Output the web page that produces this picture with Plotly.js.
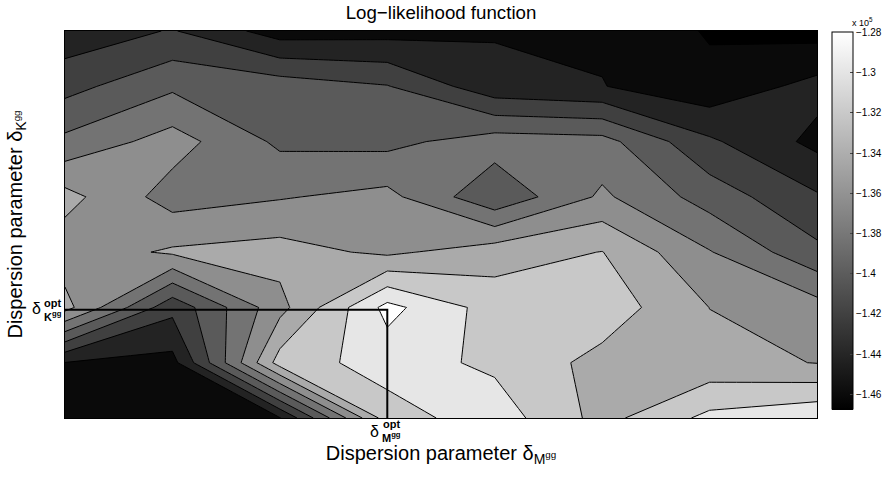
<!DOCTYPE html>
<html>
<head>
<meta charset="utf-8">
<script src="https://cdn.plot.ly/plotly-3.0.1.min.js"></script>
<style>
html,body{margin:0;padding:0;background:#fff;}
#chart{width:885px;height:478px;}
</style>
</head>
<body>
<div id="chart"></div>
<script>
// grid positions (index of dispersion parameter grid)
const xGrid = [0, 1, 2, 3, 4, 5, 6, 7];
const yGrid = [0, 1, 2, 3, 4, 5, 6, 7];

// log-likelihood values (x 10^5), one row per yGrid value (bottom to top)
const row0 = [-1.458, -1.455, -1.441, -1.3092, -1.289, -1.327, -1.2945, -1.283];
const row1 = [-1.4405, -1.4468, -1.311, -1.2912, -1.304, -1.3266, -1.3339, -1.3406];
const row2 = [-1.333, -1.414, -1.3467, -1.2737, -1.309, -1.3083, -1.3402, -1.352];
const row3 = [-1.352, -1.337, -1.3321, -1.344, -1.329, -1.3195, -1.3588, -1.395];
const row4 = [-1.333, -1.369, -1.3615, -1.354, -1.396, -1.3564, -1.3887, -1.4176];
const row5 = [-1.375, -1.3513, -1.384, -1.3857, -1.370, -1.3726, -1.4166, -1.4456];
const row6 = [-1.407, -1.3836, -1.389, -1.399, -1.4333, -1.4393, -1.4543, -1.4331];
const row7 = [-1.433, -1.4185, -1.4497, -1.4476, -1.4418, -1.4434, -1.4619, -1.4676];
const zValues = [row0, row1, row2, row3, row4, row5, row6, row7];

// contour levels
const levelStart = -1.46, levelEnd = -1.28, levelStep = 0.02;

// band fill colours, lowest band first
const bandColors = ['#000000', '#0a0a0a', '#232323', '#404040', '#5a5a5a', '#737373',
                    '#8e8e8e', '#aaaaaa', '#c8c8c8', '#e6e6e6', '#ffffff'];

// colour bar
const cbRange = [-1.4676, -1.28];
const cbTickVals = [-1.28, -1.30, -1.32, -1.34, -1.36, -1.38, -1.40, -1.42, -1.44, -1.46];
const cbTickText = ['\u22121.28', '\u22121.3', '\u22121.32', '\u22121.34', '\u22121.36',
                    '\u22121.38', '\u22121.4', '\u22121.42', '\u22121.44', '\u22121.46'];

// optimum
const optX = 3;
const optY = 1.96;
const optLineX = [xGrid[0], optX, optX];
const optLineY = [optY, optY, yGrid[0]];

const FONT = 'Liberation Sans, Arial, Helvetica, sans-serif';

const fillScale = bandColors.map((c, k) => [k / (bandColors.length - 1), c]);

const traces = [
  {
    type: 'heatmap', x: xGrid, y: yGrid, z: zValues,
    zmin: cbRange[0], zmax: cbRange[1], zauto: false,
    colorscale: [[0, '#000000'], [1, '#ffffff']],
    opacity: 0, hoverinfo: 'skip', showscale: true,
    colorbar: {
      x: (832 - 65) / 752, xref: 'paper', xanchor: 'left', xpad: 0,
      y: (418 - 221) / 387, yanchor: 'middle', ypad: 0,
      len: 377, lenmode: 'pixels',
      thickness: 21, thicknessmode: 'pixels',
      outlinewidth: 1, outlinecolor: '#000',
      tickmode: 'array', tickvals: cbTickVals, ticktext: cbTickText,
      ticks: 'inside', ticklen: 3, tickcolor: '#444',
      tickfont: {family: FONT, size: 10, color: '#000'}
    }
  },
  {
    type: 'contour', x: xGrid, y: yGrid, z: zValues,
    autocontour: false,
    contours: {start: levelStart, end: levelEnd, size: levelStep, coloring: 'fill', showlines: true},
    colorscale: fillScale,
    line: {color: '#000', width: 1, smoothing: 0},
    showscale: false, hoverinfo: 'skip'
  },
  {
    type: 'scatter', mode: 'lines', x: optLineX, y: optLineY,
    line: {color: '#000', width: 2}, hoverinfo: 'skip', showlegend: false,
    cliponaxis: false
  }
];

const ann = (o) => Object.assign({showarrow: false, borderpad: 0, font: {family: FONT, color: '#000', size: 11}}, o);

const layout = {
  width: 885, height: 478,
  margin: {l: 65, r: 68, t: 31, b: 60, autoexpand: false},
  paper_bgcolor: '#fff', plot_bgcolor: '#fff',
  showlegend: false,
  title: {
    text: 'Log\u2212likelihood function',
    font: {family: FONT, size: 18.7, color: '#000'},
    x: 0.5, xref: 'paper', xanchor: 'center',
    y: 1 - 12 / 478, yref: 'container', yanchor: 'middle'
  },
  xaxis: {
    range: [0, 7], showgrid: false, zeroline: false, showticklabels: false, ticks: '',
    showline: true, mirror: true, linecolor: '#000', linewidth: 1,
    title: {text: 'Dispersion parameter \u03b4<sub>M<sup>gg</sup></sub>',
            font: {family: FONT, size: 20, color: '#000'}, standoff: 27}
  },
  yaxis: {
    range: [0, 7], showgrid: false, zeroline: false, showticklabels: false, ticks: '',
    showline: true, mirror: true, linecolor: '#000', linewidth: 1,
    title: {text: 'Dispersion parameter \u03b4<sub>K<sup>gg</sup></sub>',
            font: {family: FONT, size: 20, color: '#000'}, standoff: 36}
  },
  annotations: [
    // x optimum label
    ann({x: optX, xref: 'x', y: 0, yref: 'paper', text: '\u03b4', font: {family: FONT, size: 16, color: '#000'},
         xanchor: 'right', yanchor: 'middle', xshift: -7, yshift: -13}),
    ann({x: optX, xref: 'x', y: 0, yref: 'paper', text: '<b>opt</b>',
         xanchor: 'left', yanchor: 'middle', xshift: -5, yshift: -6}),
    ann({x: optX, xref: 'x', y: 0, yref: 'paper', text: '<b>M<sup>gg</sup></b>',
         xanchor: 'left', yanchor: 'middle', xshift: -6, yshift: -19}),
    // y optimum label
    ann({x: 0, xref: 'paper', y: optY, yref: 'y', text: '\u03b4', font: {family: FONT, size: 16, color: '#000'},
         xanchor: 'right', yanchor: 'middle', xshift: -23, yshift: 1}),
    ann({x: 0, xref: 'paper', y: optY, yref: 'y', text: '<b>opt</b>',
         xanchor: 'left', yanchor: 'middle', xshift: -22, yshift: 7}),
    ann({x: 0, xref: 'paper', y: optY, yref: 'y', text: '<b>K<sup>gg</sup></b>',
         xanchor: 'left', yanchor: 'middle', xshift: -22, yshift: -6}),
    // colour bar multiplier
    ann({x: (851 - 65) / 752, xref: 'paper', y: (418 - 22) / 387, yref: 'paper',
         text: 'x 10<sup>5</sup>', font: {family: FONT, size: 9, color: '#000'},
         xanchor: 'left', yanchor: 'middle'})
  ]
};

Plotly.newPlot('chart', traces, layout, {staticPlot: true, displayModeBar: false});
</script>
</body>
</html>
